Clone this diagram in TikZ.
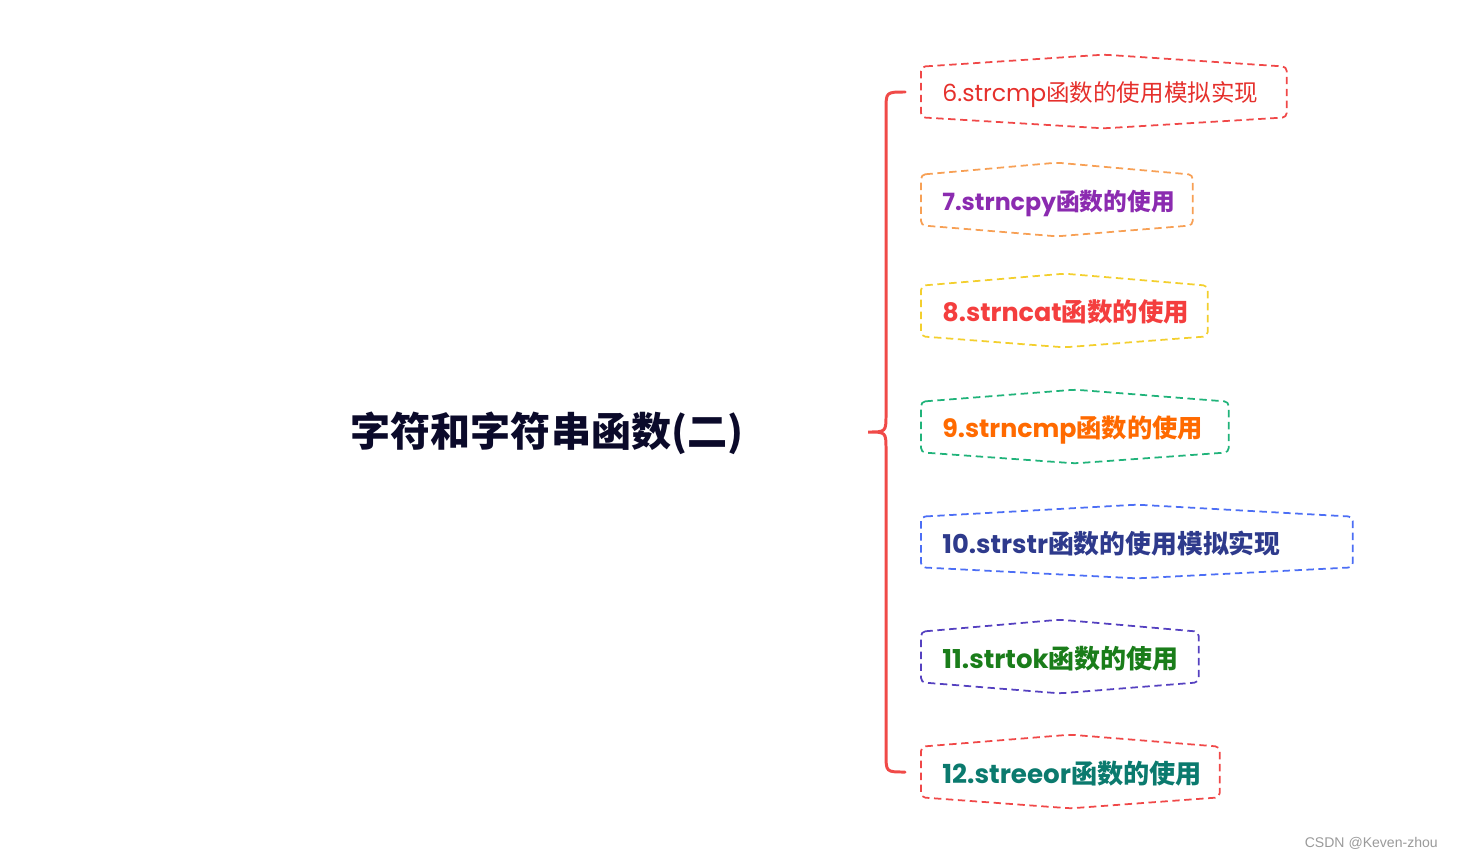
\documentclass[tikz,border=0pt]{standalone}
\usepackage{fontspec}
\setmainfont{Poppins}
\newfontfamily\cjk{Noto Sans CJK SC}
\newfontfamily\wm{Liberation Sans}

\definecolor{titleInk}{HTML}{0B0A2A}
\definecolor{braceRed}{HTML}{F04A48}
\definecolor{wmGray}{HTML}{9A9A9A}
\definecolor{txt6}{HTML}{E5302C}
\definecolor{txt7}{HTML}{8B2BB0}
\definecolor{txt8}{HTML}{F43E3E}
\definecolor{txt9}{HTML}{FF6A00}
\definecolor{txt10}{HTML}{2E3A8C}
\definecolor{txt11}{HTML}{1A7D1A}
\definecolor{txt12}{HTML}{0B7A6E}
\definecolor{line6}{HTML}{F04848}
\definecolor{line7}{HTML}{F7A055}
\definecolor{line8}{HTML}{F3CF2E}
\definecolor{line9}{HTML}{20B37A}
\definecolor{line10}{HTML}{4C6EF5}
\definecolor{line11}{HTML}{5541C0}
\definecolor{line12}{HTML}{F04848}

\tikzset{
  item/.style={anchor=west, minimum height=1cm, inner xsep=0.42cm, inner ysep=0pt,
    text depth=0pt, align=left},
  boxline/.style={dash pattern=on 4.2pt off 2.6pt, line width=1pt, rounded corners=2.5pt},
  bracepath/.style={line width=1.7pt, draw=braceRed, line cap=round},
}

\begin{document}
\begin{tikzpicture}[x=0.02cm,y=-0.02cm]
 \useasboundingbox (0,0) rectangle (1459,859);
 % root topic
 \node[font=\cjk\bfseries\fontsize{22.8}{26}\selectfont, text=titleInk] (root) at (547,433) {字符和字符串函数(二)};
 % subtopics
 \foreach \i/\y/\w/\fs/\wt/\lat/\zh in {
   6/92/365/13.4/\mdseries/6.strcmp/函数的使用模拟实现,
   7/200/271/13.5/\bfseries/7.strncpy/函数的使用,
   8/311/286/14.5/\bfseries/8.strncat/函数的使用,
   9/427/307/14.4/\bfseries/9.strncmp/函数的使用,
   10/542/431/14.7/\bfseries/10.strstr/函数的使用模拟实现,
   11/657/277/14.8/\bfseries/11.strtok/函数的使用,
   12/772/298/14.9/\bfseries/12.streeor/函数的使用}{
  \pgfmathsetmacro\tw{(\w-42)*0.02}
  \node[item, text width=\tw cm, text=txt\i, font=\fontsize{\fs}{18}\selectfont] (b\i) at (921,\y)
    {\wt\lat\cjk\zh};
  \draw[boxline, draw=line\i] (b\i.north west) -- ([yshift=0.24cm]b\i.north) -- (b\i.north east)
    -- (b\i.south east) -- ([yshift=-0.22cm]b\i.south) -- (b\i.south west) -- cycle;
 }
 % brace
 \coordinate (tip) at (868,432);
 \draw[bracepath] ([xshift=-0.32cm]b6.west) .. controls (886,92) .. (886,110) -- (886,414)
   .. controls (886,432) .. (tip) .. controls (886,432) .. (886,450) -- (886,754)
   .. controls (886,772) .. ([xshift=-0.32cm]b12.west);
 \node[font=\wm\fontsize{8}{10}\selectfont, text=wmGray, anchor=east] (mark) at (1444,843) {CSDN @Keven-zhou};
\end{tikzpicture}
\end{document}
